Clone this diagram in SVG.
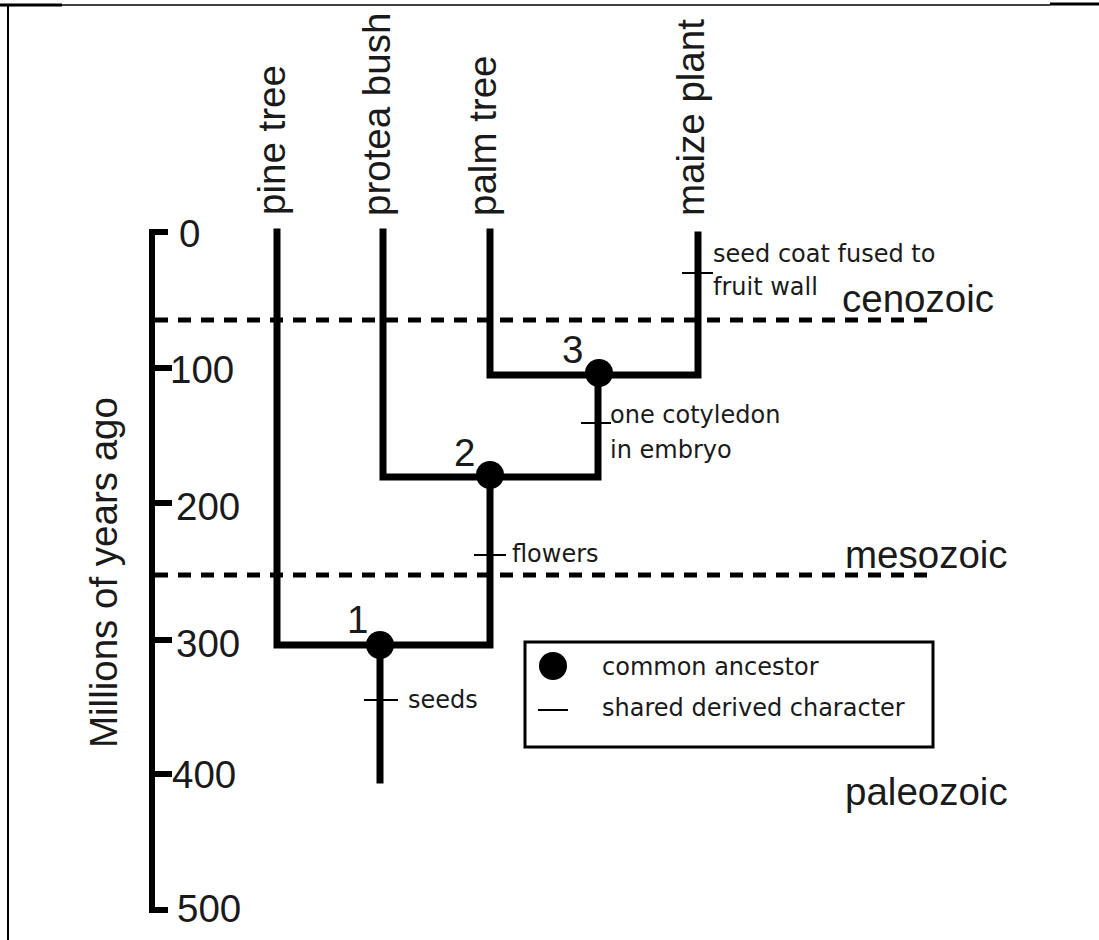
<svg xmlns="http://www.w3.org/2000/svg" width="1099" height="940" viewBox="0 0 1099 940">
<style>
.big{font-family:"Liberation Sans",Arial,sans-serif;font-size:38.5px;fill:#1a1a1a}
.sm{font-family:"DejaVu Sans",Verdana,sans-serif;font-size:24px;fill:#1a1a1a}
.br{stroke:#000;stroke-width:7;fill:none;stroke-linecap:square}
.ax{stroke:#000;stroke-width:6;fill:none}
.tk{stroke:#000;stroke-width:2}
.dash{stroke:#000;stroke-width:5;stroke-dasharray:13 10}
.node{fill:#000}
</style>
<rect width="1099" height="940" fill="#fff"/>
<g id="frame">
<line x1="8" y1="5" x2="1050" y2="5" stroke="#000" stroke-width="1.5"/>
<line x1="0" y1="5" x2="62" y2="5" stroke="#000" stroke-width="3"/>
<line x1="1050" y1="4" x2="1099" y2="4" stroke="#000" stroke-width="3"/>
<line x1="8" y1="5" x2="8" y2="940" stroke="#000" stroke-width="2"/>
</g>
<g id="axis">
<path class="ax" d="M168,232 H152 V910 H168"/>
<line class="ax" x1="152" y1="368" x2="172" y2="368"/>
<line class="ax" x1="152" y1="503" x2="172" y2="503"/>
<line class="ax" x1="152" y1="640" x2="172" y2="640"/>
<line class="ax" x1="152" y1="774" x2="172" y2="774"/>
<text class="big" x="179" y="247">0</text>
<text class="big" x="170" y="383">100</text>
<text class="big" x="176" y="520">200</text>
<text class="big" x="176" y="657">300</text>
<text class="big" x="172" y="788">400</text>
<text class="big" x="177" y="922">500</text>
<text class="big" transform="translate(117,748) rotate(-90)">Millions of years ago</text>
</g>
<g id="eras">
<line class="dash" x1="155" y1="320" x2="932" y2="320"/>
<line class="dash" x1="155" y1="575" x2="930" y2="575"/>
<text class="big" x="842" y="312">cenozoic</text>
<text class="big" x="845" y="568">mesozoic</text>
<text class="big" x="845" y="805">paleozoic</text>
</g>
<g id="connectors">
<path class="br" d="M277,232 V645 H490 V477"/>
<path class="br" d="M383,232 V477 H598 V375"/>
<path class="br" d="M490,232 V375 H698 V235"/>
<path class="br" d="M380,645 V780"/>
</g>
<g id="pine-tree"><text class="big" transform="translate(285,215) rotate(-90)">pine tree</text></g>
<g id="protea-bush"><text class="big" transform="translate(390,216) rotate(-90)">protea bush</text></g>
<g id="palm-tree"><text class="big" transform="translate(496,216) rotate(-90)">palm tree</text></g>
<g id="maize-plant"><text class="big" transform="translate(704,216) rotate(-90)">maize plant</text></g>
<g id="node1"><circle class="node" cx="380" cy="645" r="14"/><text class="big" x="347" y="633">1</text></g>
<g id="node2"><circle class="node" cx="490" cy="475" r="14"/><text class="big" x="454" y="466">2</text></g>
<g id="node3"><circle class="node" cx="599" cy="373" r="14"/><text class="big" x="562" y="363">3</text></g>
<g id="char-seeds"><line class="tk" x1="364" y1="700" x2="398" y2="700"/><text class="sm" x="408" y="708">seeds</text></g>
<g id="char-flowers"><line class="tk" x1="474" y1="555" x2="506" y2="555"/><text class="sm" x="512" y="562">flowers</text></g>
<g id="char-cotyledon"><line class="tk" x1="581" y1="423" x2="611" y2="423"/><text class="sm" x="610" y="423">one cotyledon</text><text class="sm" x="610" y="458">in embryo</text></g>
<g id="char-seedcoat"><line class="tk" x1="682" y1="273" x2="713" y2="273"/><text class="sm" x="713" y="262">seed coat fused to</text><text class="sm" x="713" y="295">fruit wall</text></g>
<g id="legend">
<rect x="525" y="642" width="408" height="105" fill="none" stroke="#000" stroke-width="3"/>
<circle class="node" cx="553" cy="666" r="14"/>
<line class="tk" x1="538" y1="710" x2="568" y2="710"/>
<text class="sm" x="602" y="675">common ancestor</text>
<text class="sm" x="602" y="716">shared derived character</text>
</g>
</svg>
